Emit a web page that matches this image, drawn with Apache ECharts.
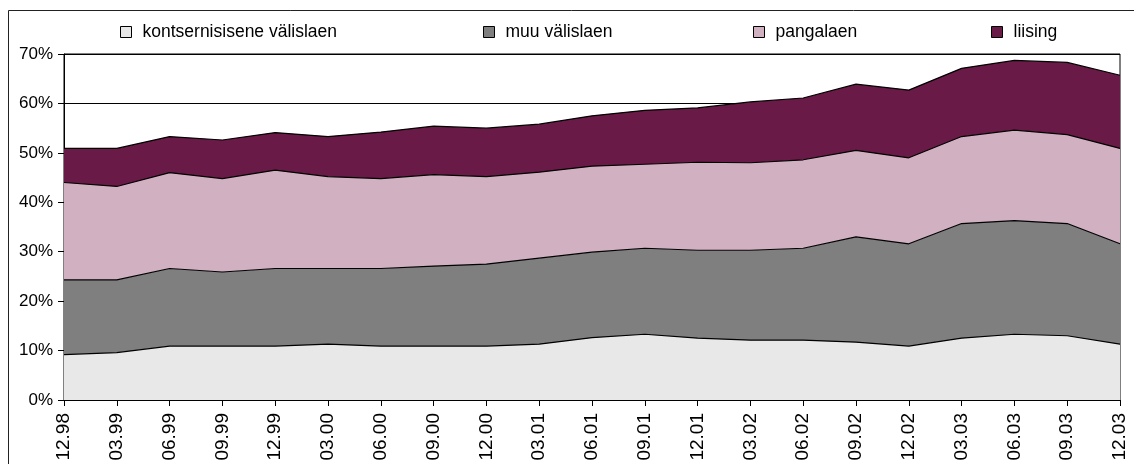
<!DOCTYPE html>
<html>
<head>
<meta charset="utf-8">
<script src="https://cdn.jsdelivr.net/npm/echarts@6/dist/echarts.min.js"></script>
<style>
  html, body { margin: 0; padding: 0; background: #fff; }
  #chart { width: 1134px; height: 464px; }
</style>
</head>
<body>
<div id="chart"></div>
<script>
// kvartalid
var categories = ["12.98", "03.99", "06.99", "09.99", "12.99", "03.00", "06.00", "09.00", "12.00",
  "03.01", "06.01", "09.01", "12.01", "03.02", "06.02", "09.02", "12.02", "03.03", "06.03", "09.03", "12.03"];

// osakaalud, %
var kontsern = [9.2, 9.6, 10.9, 10.9, 10.9, 11.3, 10.9, 10.9, 10.9, 11.3, 12.6, 13.3, 12.5, 12.1, 12.1, 11.7, 10.9, 12.5, 13.3, 13.0, 11.3];
var muu = [15.1, 14.7, 15.7, 15.0, 15.7, 15.3, 15.7, 16.2, 16.6, 17.4, 17.3, 17.4, 17.8, 18.2, 18.6, 21.3, 20.7, 23.2, 23.0, 22.7, 20.3];
var pangalaen = [19.7, 18.9, 19.4, 18.9, 19.9, 18.6, 18.2, 18.5, 17.7, 17.4, 17.4, 17.0, 17.8, 17.7, 17.9, 17.5, 17.4, 17.6, 18.3, 18.0, 19.3];
var liising = [6.9, 7.7, 7.3, 7.8, 7.6, 8.1, 9.4, 9.8, 9.8, 9.7, 10.2, 10.9, 11.0, 12.3, 12.5, 13.4, 13.7, 13.8, 14.1, 14.6, 14.8];

var names = ["kontsernisisene välislaen", "muu välislaen", "pangalaen", "liising"];
var colors = ["#e8e8e8", "#7f7f7f", "#d0b0c1", "#6a1a46"];
var values = [kontsern, muu, pangalaen, liising];

var font = "Liberation Sans, Arial, sans-serif";
var myChart = echarts.init(document.getElementById("chart"));

function legendAt(name, left) {
  return {
    data: [name],
    left: left,
    top: 18,
    icon: "rect",
    itemWidth: 11,
    itemHeight: 11,
    itemStyle: { borderColor: "#000", borderWidth: 1 },
    textStyle: { fontFamily: font, fontSize: 17.5, color: "#000", padding: [0, 0, 0, 6] },
    selectedMode: false
  };
}

var options = {
  animation: false,
  color: colors,
  graphic: [{
    type: "rect",
    shape: { x: 8.5, y: 10.5, width: 1200, height: 500 },
    style: { fill: null, stroke: "#222", lineWidth: 1 },
    silent: true
  }],
  legend: [
    legendAt(names[0], 115),
    legendAt(names[1], 478),
    legendAt(names[2], 748),
    legendAt(names[3], 986)
  ],
  grid: {
    left: 64, right: 14, top: 54, bottom: 64,
    show: true, borderColor: "#000", borderWidth: 1
  },
  xAxis: {
    type: "category",
    data: categories,
    boundaryGap: false,
    axisLine: { lineStyle: { color: "#000", width: 1 } },
    axisTick: { show: true, length: 6, lineStyle: { color: "#000" } },
    axisLabel: { rotate: 90, margin: 13, fontFamily: font, fontSize: 19, color: "#000", interval: 0 },
    splitLine: { show: false }
  },
  yAxis: {
    type: "value",
    min: 0,
    max: 70,
    interval: 10,
    axisLine: { show: true, lineStyle: { color: "#000", width: 1 } },
    axisTick: { show: true, length: 6, lineStyle: { color: "#000" } },
    axisLabel: { formatter: "{value}%", margin: 11, fontFamily: font, fontSize: 17, color: "#000" },
    splitLine: { show: true, lineStyle: { color: "#000", width: 1 } }
  },
  series: names.map(function (n, i) {
    return {
      name: n,
      type: "line",
      stack: "kokku",
      data: values[i],
      symbol: "none",
      itemStyle: { color: colors[i] },
      lineStyle: { color: "#000", width: 1.2 },
      areaStyle: { color: colors[i], opacity: 1 }
    };
  })
};

myChart.setOption(options);
</script>
</body>
</html>
